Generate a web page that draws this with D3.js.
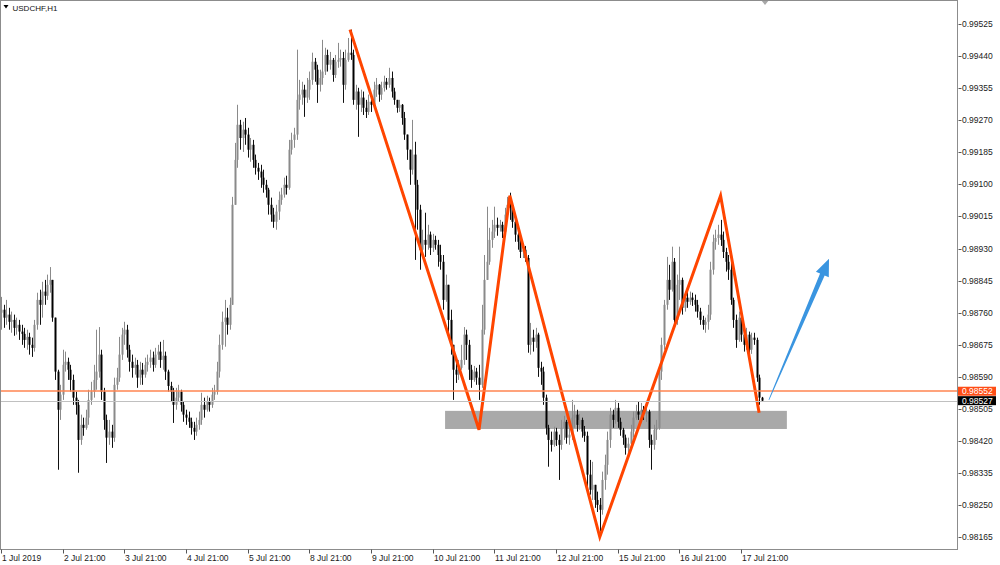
<!DOCTYPE html>
<html><head><meta charset="utf-8">
<script src="https://cdn.jsdelivr.net/npm/d3@7"></script>
<style>
body{margin:0;background:#fff;}
svg{display:block;}
text{font-family:"Liberation Sans",Arial,sans-serif;}
</style>
</head><body>
<svg id="chart" width="1000" height="565"></svg>
<script>
// ---------- DATA ----------
const symbol = "USDCHF,H1";
const firstOpen = 0.98760;
const closes = [
0.98768,0.98747,0.98755,0.98736,0.98741,0.98720,0.98728,0.98710,0.98704,0.98688,
0.98696,0.98675,0.98667,0.98728,0.98794,0.98781,0.98816,0.98805,0.98834,0.98847,
0.98747,0.98604,0.98503,0.98543,0.98622,0.98630,0.98609,0.98582,0.98535,0.98516,
0.98423,0.98463,0.98455,0.98482,0.98529,0.98551,0.98582,0.98604,0.98649,0.98551,
0.98476,0.98429,0.98445,0.98429,0.98569,0.98588,0.98649,0.98702,0.98715,0.98662,
0.98630,0.98614,0.98622,0.98588,0.98609,0.98596,0.98622,0.98630,0.98641,0.98622,
0.98649,0.98657,0.98635,0.98646,0.98604,0.98566,0.98551,0.98516,0.98535,0.98551,
0.98516,0.98490,0.98482,0.98471,0.98455,0.98445,0.98463,0.98476,0.98516,0.98503,
0.98524,0.98516,0.98543,0.98551,0.98604,0.98675,0.98736,0.98747,0.98728,0.98781,
0.99046,0.99165,0.99258,0.99223,0.99245,0.99232,0.99192,0.99205,0.99165,0.99144,
0.99134,0.99118,0.99099,0.99086,0.99046,0.99020,0.99001,0.99028,0.99059,0.99073,
0.99099,0.99091,0.99192,0.99218,0.99232,0.99324,0.99338,0.99351,0.99330,0.99351,
0.99377,0.99425,0.99404,0.99364,0.99382,0.99399,0.99443,0.99417,0.99430,0.99390,
0.99425,0.99430,0.99435,0.99364,0.99430,0.99449,0.99443,0.99324,0.99346,0.99311,
0.99330,0.99303,0.99292,0.99319,0.99311,0.99351,0.99364,0.99338,0.99356,0.99372,
0.99364,0.99382,0.99346,0.99324,0.99303,0.99311,0.99276,0.99232,0.99192,0.99139,
0.99179,0.99099,0.99033,0.98927,0.98953,0.98940,0.98967,0.98932,0.98953,0.98940,
0.98913,0.98895,0.98794,0.98834,0.98741,0.98675,0.98609,0.98596,0.98614,0.98635,
0.98702,0.98675,0.98609,0.98582,0.98604,0.98588,0.98569,0.98715,0.98847,0.98895,
0.98953,0.98975,0.98993,0.98985,0.98993,0.98975,0.99020,0.99046,0.99038,0.99001,
0.98967,0.98948,0.98921,0.98927,0.98905,0.98675,0.98694,0.98683,0.98702,0.98614,
0.98604,0.98535,0.98455,0.98423,0.98410,0.98445,0.98423,0.98410,0.98455,0.98471,
0.98429,0.98437,0.98482,0.98490,0.98463,0.98476,0.98445,0.98434,0.98331,0.98291,
0.98304,0.98264,0.98251,0.98238,0.98317,0.98357,0.98423,0.98490,0.98476,0.98508,
0.98471,0.98450,0.98429,0.98402,0.98413,0.98445,0.98482,0.98498,0.98490,0.98503,
0.98492,0.98498,0.98423,0.98410,0.98450,0.98455,0.98604,0.98675,0.98781,0.98847,
0.98821,0.98895,0.98741,0.98834,0.98847,0.98773,0.98800,0.98789,0.98800,0.98794,
0.98781,0.98763,0.98741,0.98728,0.98736,0.98755,0.98874,0.98948,0.98958,0.98967,
0.98953,0.98921,0.98895,0.98874,0.98794,0.98741,0.98688,0.98747,0.98702,0.98675,
0.98702,0.98662,0.98694,0.98688,0.98588,0.98535,0.98527
];
const highs = [
0.98802,0.98781,0.98794,0.98773,0.98763,0.98755,0.98747,0.98741,0.98728,0.98720,
0.98715,0.98707,0.98694,0.98741,0.98813,0.98821,0.98842,0.98847,0.98861,0.98881,
0.98842,0.98747,0.98609,0.98569,0.98662,0.98657,0.98641,0.98622,0.98596,0.98551,
0.98529,0.98490,0.98482,0.98503,0.98556,0.98577,0.98622,0.98715,0.98722,0.98662,
0.98561,0.98490,0.98476,0.98463,0.98588,0.98614,0.98696,0.98720,0.98736,0.98728,
0.98675,0.98649,0.98641,0.98635,0.98630,0.98627,0.98641,0.98649,0.98662,0.98657,
0.98667,0.98675,0.98683,0.98688,0.98657,0.98609,0.98577,0.98561,0.98561,0.98569,
0.98556,0.98524,0.98503,0.98498,0.98482,0.98471,0.98482,0.98498,0.98548,0.98535,
0.98540,0.98535,0.98561,0.98569,0.98630,0.98702,0.98763,0.98794,0.98773,0.98800,
0.99067,0.99210,0.99311,0.99271,0.99266,0.99276,0.99250,0.99223,0.99218,0.99179,
0.99157,0.99152,0.99139,0.99112,0.99091,0.99065,0.99038,0.99046,0.99081,0.99091,
0.99118,0.99123,0.99218,0.99237,0.99250,0.99457,0.99377,0.99372,0.99364,0.99382,
0.99399,0.99449,0.99435,0.99417,0.99404,0.99483,0.99462,0.99457,0.99451,0.99435,
0.99443,0.99475,0.99457,0.99451,0.99457,0.99488,0.99510,0.99457,0.99364,0.99356,
0.99351,0.99346,0.99324,0.99338,0.99330,0.99372,0.99382,0.99366,0.99372,0.99388,
0.99382,0.99409,0.99399,0.99356,0.99324,0.99324,0.99313,0.99292,0.99232,0.99192,
0.99271,0.99213,0.99112,0.99046,0.98980,0.99025,0.98993,0.98975,0.98969,0.98964,
0.98953,0.98940,0.98913,0.98861,0.98834,0.98768,0.98675,0.98630,0.98635,0.98675,
0.98722,0.98715,0.98688,0.98622,0.98619,0.98614,0.98622,0.98781,0.98913,0.99041,
0.98985,0.99006,0.99041,0.99012,0.99006,0.99001,0.99038,0.99067,0.99078,0.99046,
0.99020,0.98980,0.98958,0.98940,0.98937,0.98913,0.98733,0.98715,0.98720,0.98707,
0.98630,0.98617,0.98543,0.98463,0.98445,0.98458,0.98455,0.98437,0.98476,0.98487,
0.98476,0.98455,0.98529,0.98516,0.98503,0.98492,0.98482,0.98460,0.98445,0.98370,
0.98365,0.98304,0.98286,0.98269,0.98339,0.98384,0.98445,0.98508,0.98503,0.98529,
0.98521,0.98482,0.98455,0.98437,0.98429,0.98463,0.98498,0.98516,0.98524,0.98521,
0.98513,0.98519,0.98503,0.98437,0.98463,0.98476,0.98622,0.98694,0.98794,0.98908,
0.98887,0.98935,0.98905,0.98861,0.98935,0.98853,0.98816,0.98821,0.98816,0.98813,
0.98808,0.98794,0.98773,0.98752,0.98747,0.98781,0.98895,0.98967,0.98980,0.98993,
0.99006,0.98975,0.98932,0.98913,0.98895,0.98800,0.98755,0.98763,0.98755,0.98728,
0.98720,0.98710,0.98707,0.98707,0.98694,0.98596,0.98537
];
const lows = [
0.98715,0.98720,0.98728,0.98715,0.98707,0.98699,0.98702,0.98688,0.98675,0.98667,
0.98662,0.98649,0.98643,0.98657,0.98715,0.98728,0.98747,0.98781,0.98794,0.98813,
0.98736,0.98582,0.98344,0.98476,0.98529,0.98604,0.98582,0.98551,0.98516,0.98490,
0.98336,0.98410,0.98434,0.98450,0.98463,0.98516,0.98535,0.98556,0.98588,0.98529,
0.98450,0.98362,0.98410,0.98402,0.98418,0.98556,0.98577,0.98635,0.98675,0.98641,
0.98604,0.98588,0.98596,0.98561,0.98569,0.98569,0.98588,0.98604,0.98614,0.98604,
0.98614,0.98635,0.98614,0.98609,0.98582,0.98551,0.98524,0.98468,0.98503,0.98524,
0.98498,0.98471,0.98463,0.98455,0.98437,0.98423,0.98434,0.98450,0.98463,0.98482,
0.98498,0.98498,0.98508,0.98529,0.98543,0.98588,0.98662,0.98670,0.98702,0.98715,
0.98789,0.99046,0.99144,0.99192,0.99186,0.99205,0.99171,0.99160,0.99144,0.99126,
0.99112,0.99091,0.99078,0.99065,0.99020,0.99001,0.98985,0.98980,0.99006,0.99046,
0.99065,0.99073,0.99086,0.99179,0.99197,0.99218,0.99298,0.99311,0.99279,0.99316,
0.99324,0.99364,0.99372,0.99316,0.99346,0.99364,0.99390,0.99399,0.99404,0.99372,
0.99382,0.99409,0.99412,0.99316,0.99351,0.99425,0.99430,0.99311,0.99298,0.99226,
0.99292,0.99284,0.99276,0.99284,0.99292,0.99303,0.99332,0.99319,0.99324,0.99346,
0.99351,0.99356,0.99330,0.99311,0.99290,0.99292,0.99258,0.99218,0.99165,0.99099,
0.99126,0.98900,0.98980,0.98874,0.98905,0.98908,0.98927,0.98913,0.98921,0.98927,
0.98882,0.98874,0.98768,0.98789,0.98696,0.98649,0.98529,0.98574,0.98582,0.98609,
0.98622,0.98635,0.98582,0.98561,0.98577,0.98569,0.98529,0.98561,0.98702,0.98847,
0.98887,0.98932,0.98958,0.98964,0.98975,0.98958,0.98967,0.99012,0.99006,0.98985,
0.98948,0.98927,0.98905,0.98905,0.98895,0.98654,0.98649,0.98657,0.98667,0.98590,
0.98569,0.98516,0.98437,0.98352,0.98392,0.98405,0.98407,0.98317,0.98397,0.98423,
0.98413,0.98410,0.98423,0.98455,0.98445,0.98450,0.98429,0.98418,0.98296,0.98278,
0.98264,0.98243,0.98232,0.98181,0.98225,0.98291,0.98331,0.98402,0.98455,0.98466,
0.98455,0.98434,0.98410,0.98384,0.98384,0.98397,0.98429,0.98476,0.98476,0.98482,
0.98476,0.98471,0.98402,0.98344,0.98397,0.98423,0.98450,0.98582,0.98662,0.98768,
0.98794,0.98816,0.98720,0.98728,0.98794,0.98755,0.98763,0.98773,0.98781,0.98778,
0.98763,0.98747,0.98728,0.98715,0.98707,0.98715,0.98741,0.98861,0.98927,0.98940,
0.98937,0.98905,0.98869,0.98847,0.98781,0.98720,0.98667,0.98683,0.98683,0.98657,
0.98662,0.98649,0.98651,0.98675,0.98577,0.98516,0.98524
];
const timeLabels = ["1 Jul 2019","2 Jul 21:00","3 Jul 21:00","4 Jul 21:00","5 Jul 21:00","8 Jul 21:00","9 Jul 21:00","10 Jul 21:00","11 Jul 21:00","12 Jul 21:00","15 Jul 21:00","16 Jul 21:00","17 Jul 21:00"];
const timeLabelBars = [0,24,48,72,96,120,144,168,192,216,240,264,288];
const priceTicks = [0.99525,0.99440,0.99355,0.99270,0.99185,0.99100,0.99015,0.98930,0.98845,0.98760,0.98675,0.98590,0.98505,0.98420,0.98335,0.98250,0.98165];
const askPrice = 0.98552;
const bidPrice = 0.98527;
const zigzagBars   = [135.8, 186, 198, 233, 280, 295];
const zigzagPrices = [0.99510, 0.98450, 0.99070, 0.98166, 0.99070, 0.98495];
const zoneBars   = [172.8, 305.8];
const zonePrices = [0.98500, 0.98452];
const arrowBars   = [298.8, 322.2];
const arrowPrices = [0.98529, 0.98903];
const shiftBar = 297.3;

// ---------- SCALES ----------
const plotLeft = 0.5, plotRight = 957.5, plotTop = 0.5, plotBottom = 549.5;
const x = d3.scaleLinear().domain([0, 372]).range([1, 957]);
const y = d3.scaleLinear().domain([0.98165, 0.99525]).range([537.3, 24]);

const candles = closes.map((c, i) => {
  const o = i === 0 ? firstOpen : closes[i - 1];
  return { i, o, c, h: Math.max(highs[i], o, c), l: Math.min(lows[i], o, c) };
});

const svg = d3.select("#chart");
svg.append("rect").attr("width", 1000).attr("height", 565).attr("fill", "#fff");

svg.append("clipPath").attr("id", "clip").append("rect")
  .attr("x", plotLeft).attr("y", plotTop).attr("width", plotRight - plotLeft).attr("height", plotBottom - plotTop);
const plot = svg.append("g").attr("clip-path", "url(#clip)");

// zone rectangle
plot.append("rect")
  .attr("x", x(zoneBars[0])).attr("width", x(zoneBars[1]) - x(zoneBars[0]))
  .attr("y", y(zonePrices[0])).attr("height", y(zonePrices[1]) - y(zonePrices[0]))
  .attr("fill", "#a9a9a9");

// candles
const cg = plot.append("g");
const bull = d => d.c >= d.o;
cg.selectAll("line.wick").data(candles).join("line").attr("class", "wick")
  .attr("x1", d => Math.round(x(d.i)) + 0.5).attr("x2", d => Math.round(x(d.i)) + 0.5)
  .attr("y1", d => y(d.h)).attr("y2", d => y(d.l))
  .attr("stroke", d => bull(d) ? "#8a8a8a" : "#111").attr("stroke-width", 1);
cg.selectAll("rect.body").data(candles).join("rect").attr("class", "body")
  .attr("x", d => Math.round(x(d.i)) - 0.5).attr("width", 2)
  .attr("y", d => y(Math.max(d.o, d.c)))
  .attr("height", d => Math.max(1, Math.abs(y(d.o) - y(d.c))))
  .attr("fill", d => bull(d) ? "#8a8a8a" : "#000");

// price lines (drawn over candles, as in the terminal)
const askY = Math.round(y(askPrice)), bidY = Math.round(y(bidPrice)) + 0.5;
svg.append("line").attr("x1", 1).attr("x2", plotRight).attr("y1", askY).attr("y2", askY)
  .attr("stroke", "#ff8450").attr("stroke-width", 1.6);
svg.append("line").attr("x1", 1).attr("x2", plotRight).attr("y1", bidY).attr("y2", bidY)
  .attr("stroke", "#c0c0c0").attr("stroke-width", 1);

// zigzag
const zz = zigzagBars.map((b, k) => [x(b), y(zigzagPrices[k])]);
plot.append("path").attr("d", d3.line()(zz))
  .attr("fill", "none").attr("stroke", "#ff4500").attr("stroke-width", 3)
  .attr("stroke-linejoin", "miter");

// blue arrow
(function () {
  const sx = x(arrowBars[0]), sy = y(arrowPrices[0]);
  const tx = x(arrowBars[1]), ty = y(arrowPrices[1]);
  const dx = tx - sx, dy = ty - sy, len = Math.hypot(dx, dy);
  const ux = dx / len, uy = dy / len, nx = -uy, ny = ux;
  const headLen = 17, headHalf = 7, shaftHalf = 2.5, tailHalf = 0.4;
  const bx = tx - ux * headLen, by = ty - uy * headLen;
  const pts = [
    [sx + nx * tailHalf, sy + ny * tailHalf],
    [bx + nx * shaftHalf, by + ny * shaftHalf],
    [bx + nx * headHalf, by + ny * headHalf],
    [tx, ty],
    [bx - nx * headHalf, by - ny * headHalf],
    [bx - nx * shaftHalf, by - ny * shaftHalf],
    [sx - nx * tailHalf, sy - ny * tailHalf]
  ];
  svg.append("path").attr("d", d3.line()(pts) + "Z").attr("fill", "#3a95e0");
})();

// shift marker
const sxm = x(shiftBar);
svg.append("path").attr("d", `M${sxm - 4},0L${sxm + 4},0L${sxm},5Z`).attr("fill", "#a8a8a8");

// frame
svg.append("rect").attr("x", plotLeft).attr("y", plotTop)
  .attr("width", plotRight - plotLeft).attr("height", plotBottom - plotTop)
  .attr("fill", "none").attr("stroke", "#8c8c8c");

// y axis (right)
const ya = svg.append("g");
priceTicks.forEach(p => {
  const yy = Math.round(y(p)) + 0.5;
  ya.append("line").attr("x1", plotRight + 1).attr("x2", plotRight + 4).attr("y1", yy).attr("y2", yy).attr("stroke", "#555");
  ya.append("text").attr("x", 962).attr("y", yy).attr("dy", "0.35em")
    .attr("font-size", 8.5).attr("fill", "#1a1a1a").text(p.toFixed(5));
});

// price tags
function tag(price, bg) {
  const yy = y(price);
  ya.append("rect").attr("x", 958).attr("y", yy - 4.5).attr("width", 38).attr("height", 9).attr("fill", bg);
  ya.append("text").attr("x", 962).attr("y", yy).attr("dy", "0.35em")
    .attr("font-size", 8.5).attr("fill", "#fff").text(price.toFixed(5));
}
tag(askPrice, "#ff4d16");
tag(bidPrice, "#000");

// x axis (bottom)
const xa = svg.append("g");
timeLabelBars.forEach((b, k) => {
  const xx = Math.round(x(b)) + 0.5;
  xa.append("line").attr("x1", xx).attr("x2", xx).attr("y1", plotBottom).attr("y2", plotBottom + 4).attr("stroke", "#555");
  xa.append("text").attr("x", xx + 0.5).attr("y", 561)
    .attr("font-size", 8.5).attr("fill", "#1a1a1a").text(timeLabels[k]);
});

// title
svg.append("path").attr("d", "M3.5,5L8.5,5L6,8.5Z").attr("fill", "#000");
svg.append("text").attr("x", 12.5).attr("y", 10.5).attr("font-size", 8).attr("fill", "#111").text(symbol);
</script>
</body></html>
